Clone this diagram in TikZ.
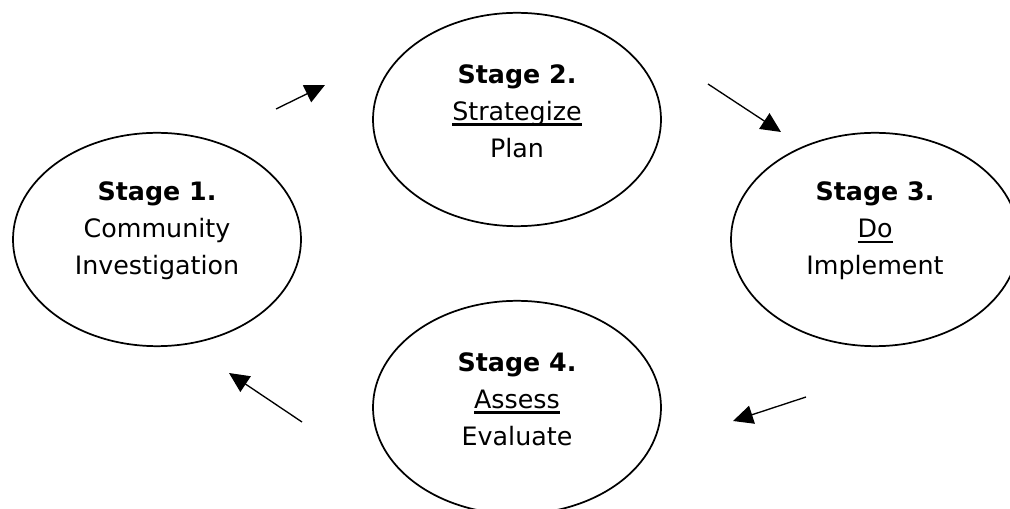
\documentclass[tikz,border=0pt]{standalone}
\usepackage{fontspec}
\setmainfont{DejaVu Sans}
\usetikzlibrary{arrows.meta}
\usetikzlibrary{shapes.geometric}

\newcommand{\ulword}[1]{\setbox0\hbox{#1}\rlap{\vrule width\wd0 height -2.5pt depth 4.2pt}\box0}

\tikzset{
  stagebox/.style={ellipse,draw=black,line width=1.3pt,inner sep=0pt,
    minimum width=216pt,minimum height=160pt},
  stagetext/.style={inner sep=0pt,align=center,
    font=\fontsize{19}{27.75}\selectfont},
  steparrow/.style={line width=1pt,-{Triangle[length=15pt,width=14pt]}}
}

\begin{document}
\begin{tikzpicture}[x=0.75pt,y=-0.75pt]
\clip (0,0) rectangle (1010,509);
\useasboundingbox (0,0) rectangle (1010,509);

\node[stagebox] (s1) at (157,239.5) {};
\node[stagebox] (s2) at (517,119.5) {};
\node[stagebox] (s3) at (875,239.5) {};
\node[stagebox] (s4) at (517,407.5) {};

\node[stagetext] (t1) at ([yshift=6.5pt]s1.center) {\textbf{Stage 1.}\\Community\\Investigation};
\node[stagetext] (t2) at ([yshift=6.5pt]s2.center) {\textbf{Stage 2.}\\\ulword{Strategize}\\Plan};
\node[stagetext] (t3) at ([yshift=6.5pt]s3.center) {\textbf{Stage 3.}\\\ulword{Do}\\Implement};
\node[stagetext] (t4) at ([yshift=6.5pt]s4.center) {\textbf{Stage 4.}\\\ulword{Assess}\\Evaluate};

\coordinate (a1s) at (276,109);
\coordinate (a1e) at (325,85);
\coordinate (a2s) at (708,84);
\coordinate (a2e) at (781,132);
\coordinate (a3s) at (806,397);
\coordinate (a3e) at (733,421);
\coordinate (a4s) at (302,422);
\coordinate (a4e) at (229,373);

\draw[steparrow] (a1s) -- (a1e);
\draw[steparrow] (a2s) -- (a2e);
\draw[steparrow] (a3s) -- (a3e);
\draw[steparrow] (a4s) -- (a4e);

\end{tikzpicture}
\end{document}
